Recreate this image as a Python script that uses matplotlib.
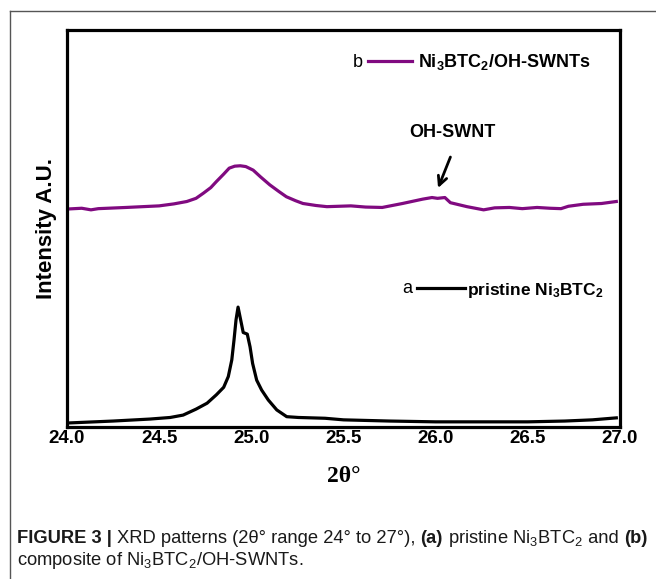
import matplotlib
matplotlib.use('Agg')
import matplotlib.pyplot as plt
from matplotlib.lines import Line2D

plt.rcParams['mathtext.default'] = 'regular'

# 2theta / intensity
x_a = [24.00, 24.25, 24.45, 24.56, 24.63, 24.70, 24.76, 24.81, 24.85, 24.875,
       24.894, 24.906, 24.917, 24.928, 24.942, 24.956, 24.978, 24.993, 25.007, 25.029,
       25.056, 25.092, 25.138, 25.192, 25.255, 25.40, 25.50, 25.75, 26.00, 26.25,
       26.50, 26.70, 26.85, 26.98]
y_a = [1.0, 1.5, 2.0, 2.4, 3.0, 4.5, 6.0, 8.1, 10.0, 12.7,
       16.9, 21.9, 27.0, 30.2, 27.0, 23.8, 23.4, 20.2, 16.0, 11.8,
       9.3, 6.8, 4.3, 2.6, 2.4, 2.2, 1.8, 1.5, 1.3, 1.3,
       1.3, 1.5, 1.8, 2.3]

x_b = [24.00, 24.08, 24.13, 24.17, 24.32, 24.50, 24.58, 24.65, 24.70, 24.74,
       24.78, 24.81, 24.85, 24.88, 24.91, 24.94, 24.97, 25.01, 25.05, 25.10,
       25.15, 25.19, 25.24, 25.28, 25.35, 25.41, 25.54, 25.62, 25.71, 25.82,
       25.93, 25.98, 26.01, 26.05, 26.08, 26.17, 26.26, 26.32, 26.40, 26.47,
       26.55, 26.62, 26.68, 26.72, 26.80, 26.90, 26.98]
y_b = [54.9, 55.1, 54.7, 55.0, 55.3, 55.7, 56.2, 56.8, 57.6, 58.9,
       60.3, 61.8, 63.7, 65.2, 65.7, 65.8, 65.6, 64.7, 63.0, 61.0,
       59.3, 58.0, 57.0, 56.3, 55.8, 55.5, 55.7, 55.4, 55.3, 56.3,
       57.4, 57.8, 57.6, 57.8, 56.5, 55.5, 54.7, 55.2, 55.3, 55.0,
       55.3, 55.1, 55.0, 55.6, 56.1, 56.3, 56.8]

ticks = [24.0, 24.5, 25.0, 25.5, 26.0, 26.5, 27.0]
label_a = r'pristine Ni$_3$BTC$_2$'
label_b = r'Ni$_3$BTC$_2$/OH-SWNTs'

purple = '#800a80'
sans = 'Liberation Sans'

fig = plt.figure(figsize=(6.56, 5.79), dpi=100)
ax = fig.add_axes([67 / 656, 1 - 427 / 579, 553 / 656, 397 / 579])

line_a, = ax.plot(x_a, y_a, color='black', lw=2.3)
line_b, = ax.plot(x_b, y_b, color=purple, lw=2.3)

ax.set_xlim(24, 27)
ax.set_ylim(0, 100)
ax.set_xticks(ticks)
ax.set_xticklabels([f'{t:.1f}' for t in ticks], fontfamily=sans,
                   fontweight='bold', fontsize=13.5)
ax.set_yticks([])
ax.tick_params(axis='x', length=0, pad=2.5)
for sp in ax.spines.values():
    sp.set_linewidth(2.3)
    sp.set_color('black')

ax.set_xlabel('2θ°', fontfamily='Liberation Serif', fontweight='bold',
              fontsize=17, labelpad=13)
ax.set_ylabel('Intensity A.U.', fontfamily=sans, fontweight='bold',
              fontsize=16, labelpad=7)

# legends with the a / b letters in front
leg_b = ax.legend([line_b], [label_b], loc='center left',
                  bbox_to_anchor=(0.544, 0.919), frameon=False, borderpad=0,
                  borderaxespad=0, handlelength=2.45, handletextpad=0.33,
                  prop=dict(family=sans, weight='bold', size=13))
ax.add_artist(leg_b)
ax.legend([line_a], [label_a], loc='center left',
          bbox_to_anchor=(0.633, 0.345), frameon=False, borderpad=0,
          borderaxespad=0, handlelength=2.75, handletextpad=0.12,
          prop=dict(family=sans, weight='bold', size=12.5))
ax.text(0.526, 0.919, 'b', transform=ax.transAxes, ha='center', va='center',
        fontfamily=sans, fontsize=13)
ax.text(0.616, 0.350, 'a', transform=ax.transAxes, ha='center', va='center',
        fontfamily=sans, fontsize=13)

# OH-SWNT marker
ax.text(26.09, 74.1, 'OH-SWNT', ha='center', va='center', fontfamily=sans,
        fontweight='bold', fontsize=13)
ax.annotate('', xy=(26.013, 60.2), xytext=(26.08, 68.0),
            arrowprops=dict(arrowstyle='->', lw=2, color='black',
                            mutation_scale=16, shrinkA=0, shrinkB=0))

# outer frame (open at right/bottom, cropped)
fx = 10 / 656
fy = 1 - 11 / 579
fig.add_artist(Line2D([fx, fx], [0, fy], transform=fig.transFigure,
                      color='#555555', lw=1))
fig.add_artist(Line2D([fx, 1], [fy, fy], transform=fig.transFigure,
                      color='#555555', lw=1))

# caption with mixed bold runs
renderer = fig.canvas.get_renderer()


def draw_runs(x, y, runs, size=13.2):
    for s, w in runs:
        t = fig.text(x, y, s, fontweight=w, fontfamily=sans, fontsize=size,
                     color='#1a1a1a', va='baseline')
        x += t.get_window_extent(renderer).width / fig.bbox.width


draw_runs(17 / 656, 1 - 543 / 579, [
    ('FIGURE 3 | ', 'bold'),
    ('XRD patterns (2θ° range 24° to 27°), ', 'normal'),
    ('(a)', 'bold'),
    (r' pristine Ni$_3$BTC$_2$', 'normal'),
    (' and ', 'normal'),
    ('(b)', 'bold'),
])
draw_runs(17 / 656, 1 - 565 / 579, [
    (r'composite of Ni$_3$BTC$_2$/OH-SWNTs.', 'normal'),
])

fig.savefig('out.png', dpi=100)
